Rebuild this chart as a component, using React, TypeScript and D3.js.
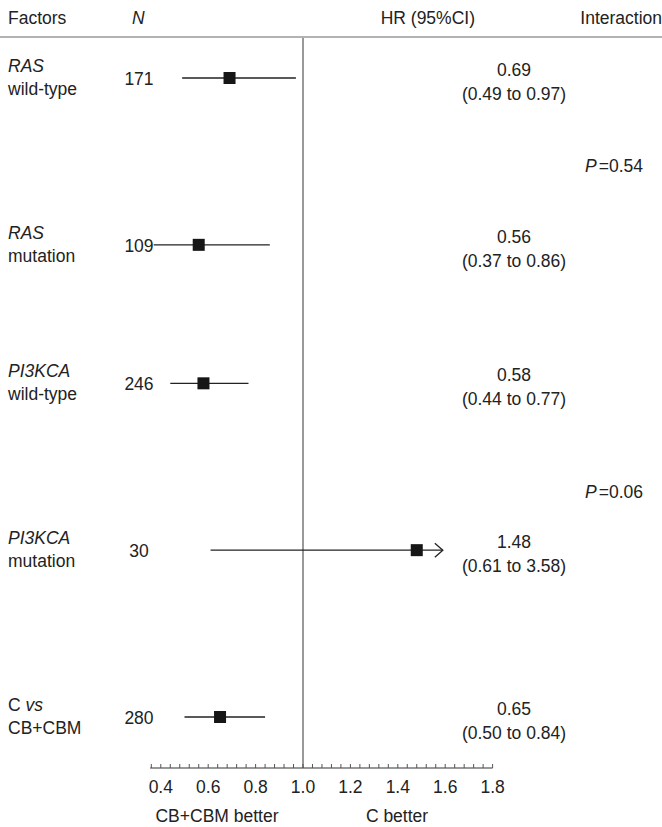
import React from "react";
import * as d3 from "d3";

// ---- data ----
const factorLine1: { t: string; i: boolean }[][] = [
  [{ t: "RAS", i: true }],
  [{ t: "RAS", i: true }],
  [{ t: "PI3KCA", i: true }],
  [{ t: "PI3KCA", i: true }],
  [{ t: "C ", i: false }, { t: "vs", i: true }],
];
const factorLine2 = ["wild-type", "mutation", "wild-type", "mutation", "CB+CBM"];
const nValues = [171, 109, 246, 30, 280];
const hrValues = [0.69, 0.56, 0.58, 1.48, 0.65];
const ciLow = [0.49, 0.37, 0.44, 0.61, 0.5];
const ciHigh = [0.97, 0.86, 0.77, 3.58, 0.84];
const interactionP = ["0.54", "0.06"];
const tickValues = [0.4, 0.6, 0.8, 1.0, 1.2, 1.4, 1.6, 1.8];
const headers = ["Factors", "N", "HR (95%CI)", "Interaction"];
const favourLabels = ["CB+CBM better", "C better"];

const W = 662;
const H = 827;
const FONT = "'Liberation Sans', Arial, Helvetica, sans-serif";
const FS = 17.5;
const TXT = "#222";

export default function App() {
  const x = d3.scaleLinear().domain([0.4, 1.8]).range([160.8, 492.6]);
  const clipMax = 1.59;
  // vertical slots of the rows
  const rowSlot = [0, 1, 1.83, 2.83, 3.83];
  const y = d3.scaleLinear().domain([0, 3.83]).range([78, 717]);
  const axisY = 768;
  const fmt = d3.format(".2f");
  const minorTicks = d3.range(0.36, 1.8001, 0.04);
  const pRowPairs = [
    [0, 1],
    [2, 3],
  ];
  const dy = 6;

  return (
    <svg width={W} height={H} style={{ display: "block", position: "absolute", left: 0, top: 0 }} fontFamily={FONT}>
      <rect width={W} height={H} fill="#fff" />
      {/* header */}
      <text x={8} y={24} fontSize={FS} fill={TXT}>{headers[0]}</text>
      <text x={132} y={24} fontSize={FS} fill={TXT} fontStyle="italic">{headers[1]}</text>
      <text x={475} y={24} fontSize={FS} fill={TXT} textAnchor="end">{headers[2]}</text>
      <text x={662} y={24} fontSize={FS} fill={TXT} textAnchor="end">{headers[3]}</text>
      <line x1={0} x2={W} y1={37} y2={37} stroke="#999" strokeWidth={1.5} />

      {/* reference line */}
      <line x1={x(1)} x2={x(1)} y1={38} y2={axisY} stroke="#333" strokeWidth={1} />

      {hrValues.map((hr, i) => {
        const cy = y(rowSlot[i]);
        const hiClipped = Math.min(ciHigh[i], clipMax);
        const arrow = ciHigh[i] > clipMax;
        const xe = x(hiClipped);
        return (
          <g key={i}>
            <text x={8} y={cy - 12 + dy} fontSize={FS} fill={TXT}>
              {factorLine1[i].map((s, k) => (
                <tspan key={k} fontStyle={s.i ? "italic" : "normal"}>{s.t}</tspan>
              ))}
            </text>
            <text x={8} y={cy + 11 + dy} fontSize={FS} fill={TXT}>{factorLine2[i]}</text>
            <text x={139} y={cy + dy + 1} fontSize={FS} fill={TXT} textAnchor="middle">{nValues[i]}</text>
            <line x1={x(ciLow[i])} x2={xe} y1={cy} y2={cy} stroke="#222" strokeWidth={1.3} />
            {arrow && (
              <path d={`M${xe - 8},${cy - 7} L${xe},${cy} L${xe - 8},${cy + 7}`} fill="none" stroke="#222" strokeWidth={1.3} />
            )}
            <rect x={x(hr) - 6} y={cy - 6} width={12} height={12} fill="#161616" />
            <text x={514} y={cy - 8 + dy} fontSize={FS} fill={TXT} textAnchor="middle">{fmt(hr)}</text>
            <text x={514} y={cy + 16 + dy} fontSize={FS} fill={TXT} textAnchor="middle">
              ({fmt(ciLow[i])} to {fmt(ciHigh[i])})
            </text>
          </g>
        );
      })}

      {interactionP.map((p, k) => {
        const [a, b] = pRowPairs[k];
        const py = (y(rowSlot[a]) + y(rowSlot[b])) / 2 + 5 + k * 20;
        return (
          <text key={k} x={585} y={py + dy} fontSize={FS} fill={TXT}>
            <tspan fontStyle="italic">P</tspan>
            <tspan dx={2}>=</tspan>
            {p}
          </text>
        );
      })}

      {/* axis */}
      <line x1={x(0.355)} x2={x(1.8)} y1={axisY} y2={axisY} stroke="#333" strokeWidth={1.2} />
      {minorTicks.map((t, i) => (
        <line key={i} x1={x(t)} x2={x(t)} y1={axisY} y2={axisY - 4} stroke="#555" strokeWidth={1} />
      ))}
      {tickValues.map((t) => (
        <text key={t} x={x(t)} y={axisY + 25} fontSize={FS} fill={TXT} textAnchor="middle">
          {t.toFixed(1)}
        </text>
      ))}
      <text x={217} y={822} fontSize={FS} fill={TXT} textAnchor="middle">{favourLabels[0]}</text>
      <text x={397} y={822} fontSize={FS} fill={TXT} textAnchor="middle">{favourLabels[1]}</text>
    </svg>
  );
}
